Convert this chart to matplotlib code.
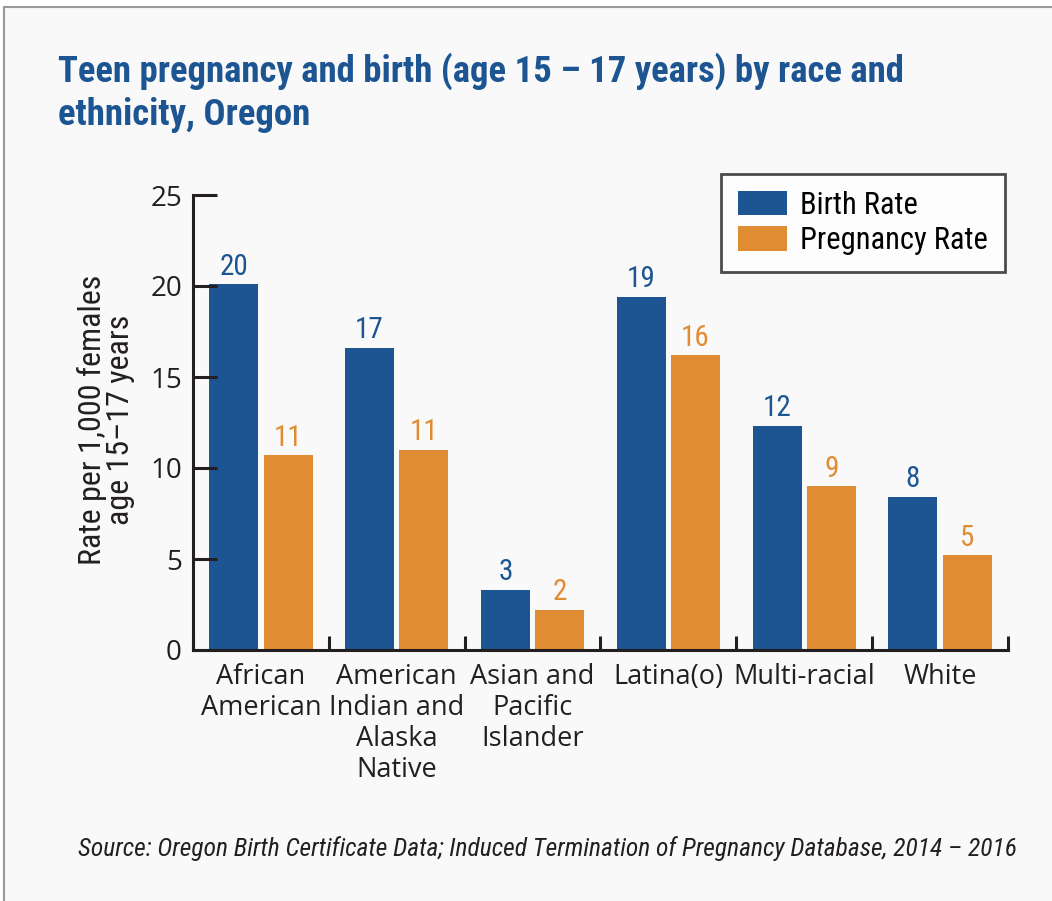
import numpy as np
import matplotlib.pyplot as plt
from matplotlib.patches import Rectangle

# data
groups = ["African\nAmerican", "American\nIndian and\nAlaska\nNative",
          "Asian and\nPacific\nIslander", "Latina(o)", "Multi-racial", "White"]
birth_rate = [20.1, 16.6, 3.3, 19.4, 12.3, 8.4]
pregnancy_rate = [10.7, 11.0, 2.2, 16.2, 9.0, 5.2]
birth_labels = ["20", "17", "3", "19", "12", "8"]
pregnancy_labels = ["11", "11", "2", "16", "9", "5"]

BLUE = "#1c5592"
ORANGE = "#e08c32"
BG = "#f9f9f9"
INK = "#231f20"
NARROW = ["Roboto Condensed", "Archivo Narrow", "DejaVu Sans"]
BODY = ["Open Sans", "DejaVu Sans"]

fig = plt.figure(figsize=(10.52, 9.01), dpi=100)
fig.patch.set_facecolor("white")

# grey panel with a thin border
panel = Rectangle((4 / 1052, -0.05), 1.05, 1.05 - 7 / 901, transform=fig.transFigure,
                  facecolor=BG, edgecolor="#9a9a9a", linewidth=1.5, zorder=-5)
fig.add_artist(panel)

ax = fig.add_axes([193 / 1052, 1 - 650 / 901, 815 / 1052, 455 / 901])
ax.set_facecolor("none")

x = np.arange(len(groups)) + 0.5
off = 0.2
w = 0.36
ax.bar(x - off, birth_rate, w, color=BLUE, label="Birth Rate")
ax.bar(x + off, pregnancy_rate, w, color=ORANGE, label="Pregnancy Rate")

for xi, v, t in zip(x, birth_rate, birth_labels):
    ax.text(xi - off, v + 0.2, t, ha="center", va="bottom", color=BLUE,
            fontsize=21, family=NARROW)
for xi, v, t in zip(x, pregnancy_rate, pregnancy_labels):
    ax.text(xi + off, v + 0.2, t, ha="center", va="bottom", color=ORANGE,
            fontsize=21, family=NARROW)

ax.set_xlim(0, 6)
ax.set_ylim(0, 25)
for s in ["top", "right"]:
    ax.spines[s].set_visible(False)
for s in ["left", "bottom"]:
    ax.spines[s].set_linewidth(2.2)
    ax.spines[s].set_color(INK)

ax.set_yticks([0, 5, 10, 15, 20, 25])
ax.tick_params(axis="y", direction="in", length=17, width=2.2, color=INK,
               labelsize=20, pad=8, labelcolor=INK)
for lab in ax.get_yticklabels():
    lab.set_family(BODY)
ax.set_xticks(np.arange(7))
ax.set_xticklabels([])
ax.tick_params(axis="x", which="major", direction="in", length=10, width=2.2, color=INK)
ax.set_xticks(x, minor=True)
ax.set_xticklabels(groups, minor=True, fontsize=19.5, family=BODY, color=INK,
                   linespacing=1.15)
ax.tick_params(axis="x", which="minor", length=0, pad=9)

leg = ax.legend(loc="upper right", bbox_to_anchor=(0.9963, 1.046), borderaxespad=0,
                frameon=True, fancybox=False, edgecolor=INK,
                prop={"family": NARROW, "size": 22},
                handlelength=1.6, handleheight=0.85, handletextpad=0.45,
                labelspacing=0.2, borderpad=0.55)
leg.get_frame().set_linewidth(2)
leg.get_frame().set_facecolor("white")

fig.text(106 / 1052, 1 - 420 / 901, "Rate per 1,000 females\nage 15\u201317 years",
         rotation=90, ha="center", va="center", fontsize=23, family=NARROW,
         color=INK, linespacing=0.95)

fig.text(58 / 1052, 1 - 52 / 901,
         "Teen pregnancy and birth (age 15 \u2013 17 years) by race and\nethnicity, Oregon",
         ha="left", va="top", fontsize=26.5, fontweight="bold", family=NARROW,
         color="#1d5592", linespacing=1.25)

fig.text(547 / 1052, 1 - 849 / 901,
         "Source: Oregon Birth Certificate Data; Induced Termination of Pregnancy Database, 2014 \u2013 2016",
         ha="center", va="center", fontsize=18.4, style="italic", family=NARROW,
         color=INK)

fig.savefig("out.png", dpi=100, facecolor=fig.get_facecolor())
